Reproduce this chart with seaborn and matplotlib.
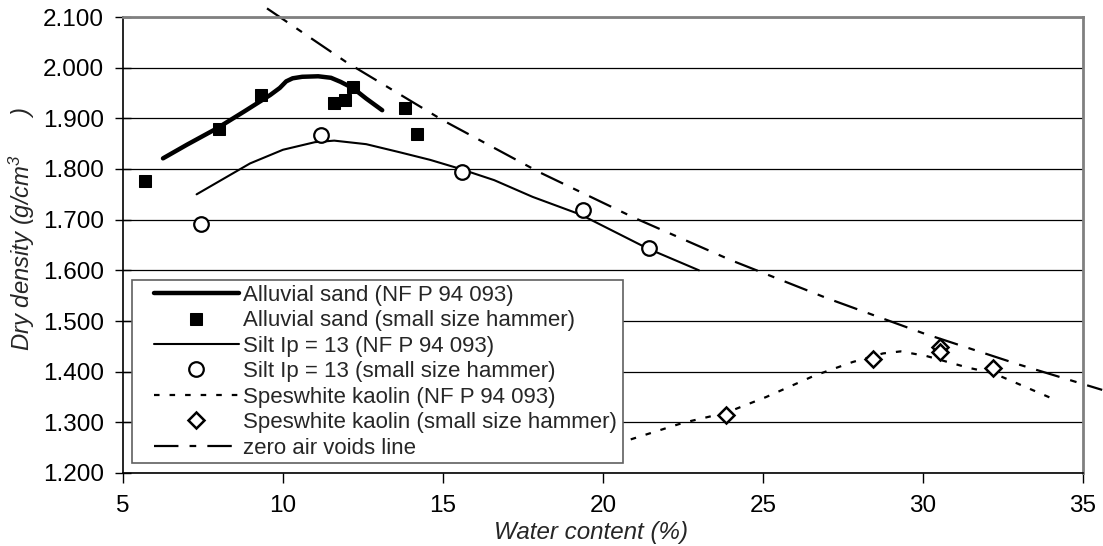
import matplotlib
matplotlib.use("Agg")
import matplotlib.pyplot as plt
import seaborn as sns
from matplotlib.ticker import FormatStrFormatter, MultipleLocator
from matplotlib.legend_handler import HandlerLine2D

# ---- data ----
sand_curve_w = [6.25, 7.0, 7.93, 8.8, 9.6, 9.9, 10.1, 10.3, 10.6, 11.1, 11.5, 11.8, 12.2, 12.6, 13.1]
sand_curve_d = [1.821, 1.848, 1.880, 1.914, 1.946, 1.960, 1.973, 1.979, 1.982, 1.983, 1.980, 1.972, 1.959, 1.939, 1.916]

sand_pts_w = [5.7, 8.0, 9.3, 11.6, 11.95, 12.2, 13.8, 14.2]
sand_pts_d = [1.776, 1.878, 1.946, 1.930, 1.936, 1.961, 1.920, 1.870]

silt_curve_w = [7.3, 8.97, 10.0, 11.0, 11.6, 12.6, 13.65, 14.6, 15.5, 16.6, 17.8, 19.3, 21.4, 23.0]
silt_curve_d = [1.750, 1.811, 1.838, 1.853, 1.856, 1.849, 1.833, 1.818, 1.801, 1.778, 1.745, 1.710, 1.643, 1.600]

silt_pts_w = [7.45, 11.2, 15.6, 19.37, 21.44]
silt_pts_d = [1.692, 1.867, 1.794, 1.719, 1.644]

kaol_curve_w = [19.0, 20.6, 22.5, 23.85, 25.1, 26.6, 27.8, 28.75, 29.3, 30.1, 31.4, 32.2, 32.9, 34.0]
kaol_curve_d = [1.232, 1.261, 1.299, 1.319, 1.350, 1.392, 1.419, 1.436, 1.440, 1.431, 1.408, 1.397, 1.378, 1.348]

kaol_pts_w = [23.85, 28.45, 30.53, 30.53, 32.2]
kaol_pts_d = [1.314, 1.425, 1.448, 1.439, 1.407]

zav_w = [9.5, 12.0, 15.0, 18.0, 21.0, 24.0, 27.0, 30.0, 33.0, 35.6]
zav_d = [2.117, 2.010, 1.896, 1.794, 1.703, 1.620, 1.545, 1.476, 1.414, 1.364]

labels = [
    "Alluvial sand (NF P 94 093)",
    "Alluvial sand (small size hammer)",
    "Silt Ip = 13 (NF P 94 093)",
    "Silt Ip = 13 (small size hammer)",
    "Speswhite kaolin (NF P 94 093)",
    "Speswhite kaolin (small size hammer)",
    "zero air voids line",
]
x_ticks = [5, 10, 15, 20, 25, 30, 35]


class ShiftedLineHandler(HandlerLine2D):
    """Legend handler that leaves an empty gap on the left of the handle."""

    def __init__(self, shift, **kw):
        super().__init__(**kw)
        self.shift = shift

    def create_artists(self, legend, orig_handle, xdescent, ydescent, width,
                       height, fontsize, trans):
        s = self.shift * fontsize
        return super().create_artists(legend, orig_handle, xdescent - s, ydescent,
                                      width - s, height, fontsize, trans)


# ---- style ----
sns.set_theme(style="white")
plt.rcParams["font.family"] = ["Liberation Sans", "DejaVu Sans"]
plt.rcParams["mathtext.fontset"] = "custom"
plt.rcParams["mathtext.rm"] = "Liberation Sans:italic"
plt.rcParams["mathtext.it"] = "Liberation Sans:italic"

fig = plt.figure(figsize=(11.03, 5.46), dpi=100)
ax = fig.add_axes([123 / 1103, 73 / 546, 960 / 1103, 456 / 546])

ax.set_axisbelow(True)
ax.yaxis.grid(True, color="black", linewidth=0.9)
ax.xaxis.grid(False)

sns.lineplot(x=sand_curve_w, y=sand_curve_d, ax=ax, sort=False, estimator=None,
             color="black", linewidth=3.2, label=labels[0])
sns.lineplot(x=sand_pts_w, y=sand_pts_d, ax=ax, sort=False, estimator=None,
             color="black", linestyle="", marker="s", markersize=9,
             markerfacecolor="black", markeredgecolor="black", label=labels[1])
sns.lineplot(x=silt_curve_w, y=silt_curve_d, ax=ax, sort=False, estimator=None,
             color="black", linewidth=1.5, label=labels[2])
sns.lineplot(x=silt_pts_w, y=silt_pts_d, ax=ax, sort=False, estimator=None,
             color="black", linestyle="", marker="o", markersize=10.5,
             markerfacecolor="white", markeredgecolor="black", markeredgewidth=1.6,
             label=labels[3])
sns.lineplot(x=kaol_curve_w, y=kaol_curve_d, ax=ax, sort=False, estimator=None,
             color="black", linewidth=1.6, linestyle=(0, (2.5, 4.5)), label=labels[4])
sns.lineplot(x=kaol_pts_w, y=kaol_pts_d, ax=ax, sort=False, estimator=None,
             color="black", linestyle="", marker="D", markersize=8,
             markerfacecolor="white", markeredgecolor="black", markeredgewidth=1.8,
             label=labels[5])
sns.lineplot(x=zav_w, y=zav_d, ax=ax, sort=False, estimator=None,
             color="black", linewidth=1.6, linestyle=(0, (11, 5, 3, 5)),
             label=labels[6])
ax.lines[-1].set_clip_on(False)

ax.set_xlim(5, 35)
ax.set_ylim(1.2, 2.1)
ax.set_xticks(x_ticks)
ax.yaxis.set_major_locator(MultipleLocator(0.1))
ax.yaxis.set_major_formatter(FormatStrFormatter("%.3f"))

for side in ["top", "right"]:
    ax.spines[side].set_color("#808080")
    ax.spines[side].set_linewidth(2.0)
for side in ["left", "bottom"]:
    ax.spines[side].set_color("black")
    ax.spines[side].set_linewidth(1.2)

ax.tick_params(axis="y", direction="inout", length=12, width=1.0, labelsize=17.5,
               left=True, pad=7.5, colors="black")
ax.tick_params(axis="x", direction="out", length=7, width=1.0, labelsize=17.5,
               bottom=True, pad=9, colors="black")

ax.set_xlabel("Water content (%)", fontsize=17.4, style="italic")
ax.xaxis.set_label_coords(0.488, -0.106)
ax.set_ylabel("Dry density (g/cm$^{3}$      )", fontsize=17.2, style="italic")
ax.yaxis.set_label_coords(-0.090, 0.536)

handles, labs = ax.get_legend_handles_labels()
fs = 16
hmap = {h: ShiftedLineHandler(0.77) for h in handles}
leg = ax.legend(handles, labs, loc="lower left",
                bbox_to_anchor=(0.0094, 0.022, 0.511, 0.40), mode="expand",
                frameon=True, fancybox=False, shadow=False, fontsize=fs,
                handlelength=4.6, handletextpad=0.18, labelspacing=0.2,
                borderpad=0.2, borderaxespad=0.0, handler_map=hmap)
leg.get_frame().set_edgecolor("#606060")
leg.get_frame().set_linewidth(1.2)
leg.get_frame().set_alpha(1.0)

fig.savefig("out.png", dpi=100)
